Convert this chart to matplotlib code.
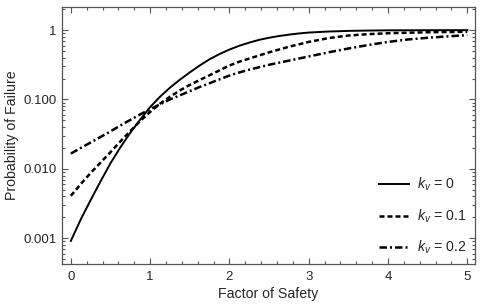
import numpy as np
import matplotlib
matplotlib.use('Agg')
import matplotlib.pyplot as plt
from matplotlib.ticker import FixedLocator, FixedFormatter, MultipleLocator, LogLocator, NullFormatter

plt.rcParams['font.family'] = ['Liberation Sans', 'DejaVu Sans']
plt.rcParams['mathtext.fontset'] = 'custom'
plt.rcParams['mathtext.it'] = 'Liberation Sans:italic'
plt.rcParams['mathtext.rm'] = 'Liberation Sans'

# factor of safety (x) and log10 of probability of failure
fos = [0, 0.125, 0.25, 0.375, 0.5, 0.625, 0.75, 0.875, 1.0, 1.125, 1.25, 1.375,
       1.5, 1.625, 1.75, 1.875, 2.0, 2.125, 2.25, 2.375, 2.5, 2.625, 2.75, 2.875,
       3.0, 3.25, 3.5, 3.75, 4.0, 4.25, 4.5, 4.75, 5.0]
log_pf_k0 = [-3.04, -2.73, -2.45, -2.18, -1.92, -1.69, -1.48, -1.29, -1.11, -0.96, -0.83, -0.715,
             -0.61, -0.51, -0.42, -0.345, -0.28, -0.225, -0.18, -0.14, -0.11, -0.085, -0.065, -0.048,
             -0.035, -0.02, -0.011, -0.006, -0.003, -0.002, -0.001, -0.0005, -0.0003]
log_pf_k01 = [-2.39, -2.22, -2.06, -1.91, -1.76, -1.605, -1.455, -1.31, -1.18, -1.06, -0.96, -0.87,
              -0.79, -0.72, -0.65, -0.58, -0.51, -0.455, -0.41, -0.365, -0.32, -0.28, -0.24, -0.205,
              -0.17, -0.115, -0.078, -0.058, -0.045, -0.037, -0.031, -0.027, -0.024]
log_pf_k02 = [-1.78, -1.70, -1.62, -1.54, -1.46, -1.375, -1.295, -1.215, -1.14, -1.07, -1.00, -0.94,
              -0.88, -0.82, -0.765, -0.71, -0.655, -0.61, -0.57, -0.535, -0.50, -0.47, -0.44, -0.41,
              -0.38, -0.32, -0.265, -0.215, -0.17, -0.135, -0.11, -0.09, -0.072]
labels = [r'$k_v$ = 0', r'$k_v$ = 0.1', r'$k_v$ = 0.2']

y_ticks = [0.001, 0.01, 0.1, 1]
y_ticklabels = ['0.001', '0.010', '0.100', '1']

text_col = '#262626'

fig = plt.figure(figsize=(4.86, 3.08), dpi=100)
ax = fig.add_axes([0.127, 0.142, 0.85, 0.835])

ax.plot(fos, 10 ** np.array(log_pf_k0), color='black', lw=1.4, ls='-', label=labels[0])
ax.plot(fos, 10 ** np.array(log_pf_k01), color='black', lw=1.8, ls=(0, (2.0, 1.2)), label=labels[1])
ax.plot(fos, 10 ** np.array(log_pf_k02), color='black', lw=1.8, ls=(0, (3.0, 1.2, 0.8, 1.2)), label=labels[2])

ax.set_yscale('log')
ax.set_xlim(-0.115, 5.095)
ax.set_ylim(4.2e-4, 2.15)

ax.yaxis.set_major_locator(FixedLocator(y_ticks))
ax.yaxis.set_major_formatter(FixedFormatter(y_ticklabels))
ax.yaxis.set_minor_locator(LogLocator(base=10, subs=np.arange(2, 10)))
ax.yaxis.set_minor_formatter(NullFormatter())
ax.xaxis.set_major_locator(MultipleLocator(1))
ax.xaxis.set_minor_locator(MultipleLocator(0.2))

ax.tick_params(which='both', direction='in', top=True, right=True, colors='#555555',
               labelcolor=text_col, labelsize=9.5, width=0.8)
ax.tick_params(which='major', length=4)
ax.tick_params(which='minor', length=2)
ax.tick_params(axis='x', pad=5)
for s in ax.spines.values():
    s.set_color('#555555')
    s.set_linewidth(0.9)

ax.set_xlabel('Factor of Safety', fontsize=10.2, color=text_col, labelpad=3)
ax.set_ylabel('Probability of Failure', fontsize=10.2, color=text_col, labelpad=3)

leg = ax.legend(loc='lower right', frameon=False, fontsize=10.2, handlelength=2.1,
                labelspacing=1.0, handletextpad=0.6, borderaxespad=0.15)
for t in leg.get_texts():
    t.set_color(text_col)

fig.savefig('out.png', dpi=100)
